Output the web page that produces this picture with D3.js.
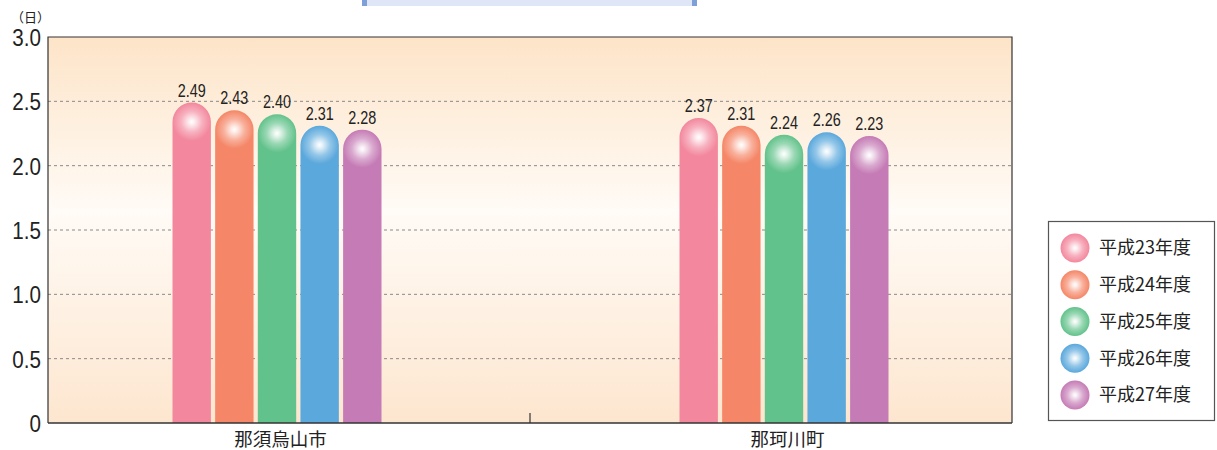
<!DOCTYPE html>
<html>
<head>
<meta charset="utf-8">
<script src="https://cdn.jsdelivr.net/npm/d3@7"></script>
<style>
  body { margin: 0; background: #fff; }
  svg { display: block; }
  .num { font-family: "Liberation Sans", sans-serif; fill: #222; }
  .jp { font-family: "Noto Sans CJK JP", sans-serif; fill: #222; }
</style>
</head>
<body>
<div id="chart"></div>
<script>
const categories = ["那須烏山市", "那珂川町"];
const series = ["平成23年度", "平成24年度", "平成25年度", "平成26年度", "平成27年度"];
const values = [
  [2.49, 2.43, 2.40, 2.31, 2.28],
  [2.37, 2.31, 2.24, 2.26, 2.23]
];
const yTicks = [0, 0.5, 1.0, 1.5, 2.0, 2.5, 3.0];
const yTickLabels = ["0", "0.5", "1.0", "1.5", "2.0", "2.5", "3.0"];
const colors = ["#f3879d", "#f58667", "#62c28b", "#5aa8dc", "#c57bb5"];

const width = 1217, height = 450;
const mLeft = 48, mRight = 1012, mTop = 37, mBottom = 423;

const svg = d3.select("#chart").append("svg")
  .attr("width", width)
  .attr("height", height);

const defs = svg.append("defs");

// plot background gradient
const bg = defs.append("linearGradient")
  .attr("id", "bg").attr("x1", 0).attr("y1", 0).attr("x2", 0).attr("y2", 1);
bg.append("stop").attr("offset", "0%").attr("stop-color", "#fde4c8");
bg.append("stop").attr("offset", "45%").attr("stop-color", "#fffbf6");
bg.append("stop").attr("offset", "100%").attr("stop-color", "#fde6cf");

// sphere highlight gradient (white glow over the bar colour)
const sph = defs.append("radialGradient").attr("id", "sph")
  .attr("cx", "50%").attr("cy", "50%").attr("r", "50%");
sph.append("stop").attr("offset", "0%").attr("stop-color", "#fff").attr("stop-opacity", 1);
sph.append("stop").attr("offset", "15%").attr("stop-color", "#fff").attr("stop-opacity", 0.85);
sph.append("stop").attr("offset", "55%").attr("stop-color", "#fff").attr("stop-opacity", 0.35);
sph.append("stop").attr("offset", "100%").attr("stop-color", "#fff").attr("stop-opacity", 0);

// cut-off title box at the top
svg.append("rect").attr("x", 362).attr("y", -20).attr("width", 335).attr("height", 26)
  .attr("fill", "#dfe6f5");
svg.append("rect").attr("x", 362).attr("y", -20).attr("width", 5).attr("height", 26).attr("fill", "#7f9fd8");
svg.append("rect").attr("x", 692).attr("y", -20).attr("width", 5).attr("height", 26).attr("fill", "#7f9fd8");

const y = d3.scaleLinear().domain([0, 3]).range([mBottom, mTop]);
const xBand = d3.scaleBand().domain(categories).range([mLeft, mRight]);
const xGroup = d3.scalePoint().domain(categories).range([277, 784]);
const xInner = d3.scaleBand().domain(series).range([-104.5, 104.5]).paddingInner(0.1);

svg.append("rect")
  .attr("x", mLeft).attr("y", mTop)
  .attr("width", mRight - mLeft).attr("height", mBottom - mTop)
  .attr("fill", "url(#bg)");

// grid lines
svg.append("g").selectAll("line")
  .data(yTicks.filter(d => d > 0 && d < 3))
  .enter().append("line")
  .attr("x1", mLeft).attr("x2", mRight)
  .attr("y1", d => y(d)).attr("y2", d => y(d))
  .attr("stroke", "#8a8a8a")
  .attr("stroke-width", 1)
  .attr("stroke-dasharray", "3,3");

// bars
const groups = svg.append("g").selectAll("g")
  .data(categories)
  .enter().append("g")
  .attr("transform", d => "translate(" + xGroup(d) + ",0)");

const bars = groups.selectAll("g.bar")
  .data((d, gi) => values[gi].map((v, si) => ({ v, si })))
  .enter().append("g").attr("class", "bar");

const bw = xInner.bandwidth();
const r = bw / 2;

bars.append("path")
  .attr("d", d => {
    const x0 = xInner(series[d.si]);
    const yt = y(d.v);
    return "M" + x0 + "," + mBottom +
      "V" + (yt + r) +
      "A" + r + "," + r + " 0 0 1 " + (x0 + bw) + "," + (yt + r) +
      "V" + mBottom + "Z";
  })
  .attr("fill", d => colors[d.si]);

bars.append("circle")
  .attr("cx", d => xInner(series[d.si]) + r)
  .attr("cy", d => y(d.v) + r)
  .attr("r", r)
  .attr("fill", "url(#sph)");

// value labels, condensed
bars.append("text")
  .attr("class", "num")
  .attr("transform", d => "translate(" + (xInner(series[d.si]) + r) + "," + (y(d.v) - 6) + ") scale(0.8,1)")
  .attr("text-anchor", "middle")
  .attr("font-size", 18)
  .text(d => d.v.toFixed(2));

// frame
svg.append("path")
  .attr("d", "M" + mLeft + "," + mBottom + "V" + mTop + "H" + mRight + "V" + mBottom)
  .attr("fill", "none").attr("stroke", "#333").attr("stroke-width", 1.2);
svg.append("line")
  .attr("x1", mLeft).attr("x2", mRight).attr("y1", mBottom).attr("y2", mBottom)
  .attr("stroke", "#333").attr("stroke-width", 1.6);
svg.append("line")
  .attr("x1", xBand(categories[1])).attr("x2", xBand(categories[1]))
  .attr("y1", mBottom).attr("y2", mBottom - 10)
  .attr("stroke", "#333").attr("stroke-width", 1.2);

// y axis
const yAxis = svg.append("g")
  .attr("transform", "translate(" + (mLeft - 7) + ",0)")
  .call(d3.axisLeft(y).tickValues(yTicks).tickSize(0).tickPadding(0)
    .tickFormat((d, i) => yTickLabels[i]));
yAxis.select(".domain").remove();
yAxis.selectAll("text")
  .attr("class", "num")
  .attr("font-size", 24)
  .attr("dy", "0.36em")
  .attr("x", 0)
  .attr("transform", "scale(0.86,1)")
  .style("fill", "#222");

svg.append("text").attr("class", "jp")
  .attr("x", 11).attr("y", 22)
  .attr("font-size", 13)
  .text("（日）");

// category labels
svg.append("g").selectAll("text")
  .data(categories)
  .enter().append("text")
  .attr("class", "jp")
  .attr("x", d => xGroup(d) + 3.5)
  .attr("y", 446)
  .attr("text-anchor", "middle")
  .attr("font-size", 18.5)
  .text(d => d);

// legend
const lg = svg.append("g");
lg.append("rect")
  .attr("x", 1048.5).attr("y", 221.5).attr("width", 166).attr("height", 199)
  .attr("fill", "#fff").attr("stroke", "#555").attr("stroke-width", 1.2);
const ly = d3.scalePoint().domain(series).range([248, 395]);
const items = lg.selectAll("g.item").data(series).enter().append("g").attr("class", "item");
items.append("circle")
  .attr("cx", 1075).attr("cy", d => ly(d)).attr("r", 14.5)
  .attr("fill", (d, i) => colors[i]);
items.append("circle")
  .attr("cx", 1075).attr("cy", d => ly(d)).attr("r", 14.5)
  .attr("fill", "url(#sph)");
items.append("text")
  .attr("class", "jp")
  .attr("x", 1099).attr("y", d => ly(d))
  .attr("dy", "0.36em")
  .attr("font-size", 18)
  .text(d => d);
</script>
</body>
</html>
